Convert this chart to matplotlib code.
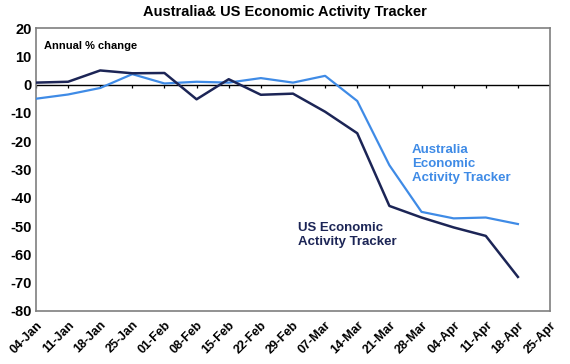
import matplotlib.pyplot as plt
import numpy as np

# weekly dates (category axis)
dates = ['04-Jan', '11-Jan', '18-Jan', '25-Jan', '01-Feb', '08-Feb', '15-Feb',
         '22-Feb', '29-Feb', '07-Mar', '14-Mar', '21-Mar', '28-Mar', '04-Apr',
         '11-Apr', '18-Apr', '25-Apr']

# annual % change
us = [0.7, 1.0, 5.0, 4.0, 4.1, -5.2, 1.9, -3.6, -3.2, -9.6, -17.2,
      -42.9, -47.0, -50.5, -53.5, -68.0]
aus = [-5.0, -3.5, -1.2, 3.7, 0.4, 1.0, 0.7, 2.3, 0.7, 3.1, -5.8,
       -28.5, -45.0, -47.3, -47.0, -49.3]

navy = '#1c2556'
light = '#3f8be6'

plt.rcParams['font.family'] = ['Liberation Sans', 'DejaVu Sans']

fig = plt.figure(figsize=(5.7, 3.64), dpi=100)
ax = fig.add_axes([0.063, 0.146, 0.902, 0.777])

x = np.arange(len(dates))
ax.plot(x[:len(aus)], aus, color=light, lw=1.6, zorder=3)
ax.plot(x[:len(us)], us, color=navy, lw=1.8, zorder=4)

# zero line with small tick marks under it
ax.axhline(0, color='black', lw=1, zorder=2)
ax.vlines(x, -1.3, 0, color='black', lw=0.9, zorder=2)

ax.set_xlim(0, len(dates) - 1)
ax.set_ylim(-80, 20)
ax.set_yticks(np.arange(-80, 21, 10))
ax.set_yticklabels([str(v) for v in range(-80, 21, 10)], fontsize=10.5,
                   fontweight='bold')
ax.set_xticks(x)
ax.set_xticklabels(dates, rotation=45, ha='right', rotation_mode='anchor',
                   fontsize=9, fontweight='bold')
ax.tick_params(length=0, pad=3)
ax.tick_params(axis='x', pad=6)
for s in ax.spines.values():
    s.set_color('#7f7f7f')
    s.set_linewidth(1.2)

ax.text(0.015, 0.955, 'Annual % change', transform=ax.transAxes,
        fontsize=8, fontweight='bold', va='top')
ax.text(11.7, -21.0, 'Australia\nEconomic\nActivity Tracker', color=light,
        fontsize=9.5, fontweight='bold', va='top', linespacing=1.25)
ax.text(8.15, -48.5, 'US Economic\nActivity Tracker', color=navy,
        fontsize=9.5, fontweight='bold', va='top', linespacing=1.25)

fig.suptitle('Australia& US Economic Activity Tracker', fontsize=10.5,
             fontweight='bold', x=0.5, y=0.985)

fig.savefig('out.png', dpi=100)
